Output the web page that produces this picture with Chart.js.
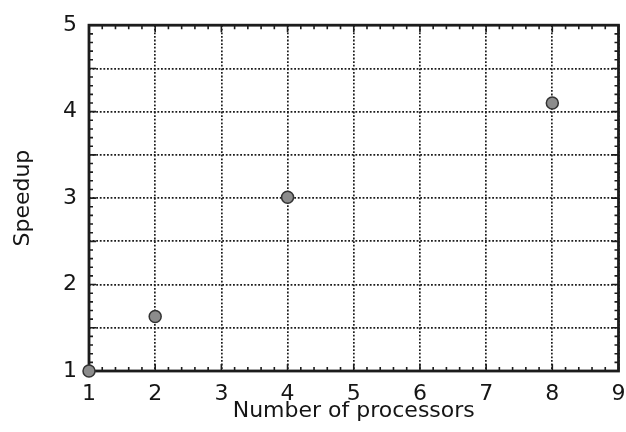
<!DOCTYPE html>
<html>
<head>
<meta charset="utf-8">
<script src="https://cdn.jsdelivr.net/npm/chart.js@4/dist/chart.umd.min.js"></script>
<style>
  html, body { margin: 0; padding: 0; background: #fff; }
  #wrap { width: 626px; height: 432px; position: relative; }
</style>
</head>
<body>
<div id="wrap"><canvas id="c" width="626" height="432"></canvas></div>
<script>
// ---- data ----
const processors = [1, 2, 4, 8];
const speedup = [1.0, 1.63, 3.01, 4.1];
const xTickLabels = [1, 2, 3, 4, 5, 6, 7, 8, 9];
const yTickLabels = [1, 2, 3, 4, 5];
const xTitle = 'Number of processors';
const yTitle = 'Speedup';

const FONT = '"DejaVu Sans", "Liberation Sans", Arial, sans-serif';
const INK = '#1c1c1c';

const xMin = xTickLabels[0], xMax = xTickLabels[xTickLabels.length - 1];
const yMin = yTickLabels[0], yMax = yTickLabels[yTickLabels.length - 1];

const framePlugin = {
  id: 'frame',
  beforeDatasetsDraw(chart) {
    const { ctx, chartArea: a, scales } = chart;
    const xs = scales.x, ys = scales.y;
    ctx.save();
    ctx.strokeStyle = INK;
    ctx.lineWidth = 1.6;
    ctx.beginPath();
    const nx = Math.round((xMax - xMin) / 0.2);
    for (let i = 0; i <= nx; i++) {
      const px = xs.getPixelForValue(xMin + i * 0.2);
      const len = (i % 5 === 0) ? 7 : 4;
      ctx.moveTo(px, a.bottom); ctx.lineTo(px, a.bottom - len);
      ctx.moveTo(px, a.top); ctx.lineTo(px, a.top + len);
    }
    const ny = Math.round((yMax - yMin) / 0.1);
    for (let i = 0; i <= ny; i++) {
      const py = ys.getPixelForValue(yMin + i * 0.1);
      const len = (i % 5 === 0) ? 7 : 4;
      ctx.moveTo(a.left, py); ctx.lineTo(a.left + len, py);
      ctx.moveTo(a.right, py); ctx.lineTo(a.right - len, py);
    }
    ctx.stroke();
    ctx.lineWidth = 2.8;
    ctx.strokeRect(a.left, a.top, a.right - a.left, a.bottom - a.top);
    ctx.restore();
  }
};

new Chart(document.getElementById('c'), {
  type: 'scatter',
  data: {
    datasets: [{
      data: processors.map((x, i) => ({ x: x, y: speedup[i] })),
      backgroundColor: '#8c8c8c',
      borderColor: '#333333',
      borderWidth: 1.5,
      pointRadius: 6,
      pointHoverRadius: 6,
      clip: false
    }]
  },
  options: {
    responsive: false,
    animation: false,
    events: [],
    layout: { padding: { top: 23, right: 7, left: 0, bottom: 0 } },
    plugins: { legend: { display: false }, tooltip: { enabled: false } },
    scales: {
      x: {
        type: 'linear',
        min: xMin, max: xMax,
        afterBuildTicks(s) { s.ticks = xTickLabels.map(v => ({ value: v })); },
        afterFit(s) { s.height = 61; s.paddingLeft = 0; s.paddingRight = 0; },
        grid: { color: INK, lineWidth: 1.7, drawTicks: false },
        border: { display: false, dash: [1.8, 1.8] },
        ticks: {
          padding: 10,
          color: '#151515',
          font: { family: FONT, size: 22 },
          maxRotation: 0,
          callback: v => String(v)
        },
        title: {
          display: true, text: xTitle, color: '#151515',
          font: { family: FONT, size: 22 },
          padding: { top: 0, bottom: 8 }
        }
      },
      y: {
        type: 'linear',
        min: yMin, max: yMax,
        afterBuildTicks(s) {
          const t = [];
          for (let i = 0; i <= (yMax - yMin) * 2; i++) t.push({ value: yMin + i * 0.5 });
          s.ticks = t;
        },
        afterFit(s) { s.width = 89; },
        grid: { color: INK, lineWidth: 1.7, drawTicks: false },
        border: { display: false, dash: [1.8, 1.8] },
        ticks: {
          padding: 12,
          color: '#151515',
          font: { family: FONT, size: 22 },
          callback: v => (yTickLabels.includes(v) ? String(v) : '')
        },
        title: {
          display: true, text: yTitle, color: '#151515',
          font: { family: FONT, size: 22 },
          padding: { top: 10, bottom: 0 }
        }
      }
    }
  },
  plugins: [framePlugin]
});
</script>
</body>
</html>
